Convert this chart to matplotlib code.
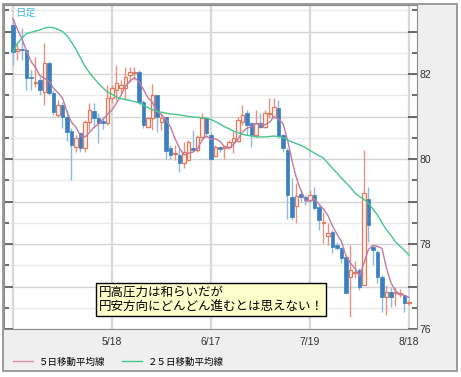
import matplotlib
matplotlib.use('Agg')
import matplotlib.pyplot as plt
from matplotlib import patches, ticker
from matplotlib.lines import Line2D
import numpy as np
import pandas as pd

plt.rcParams['font.family'] = ['Noto Sans CJK JP', 'DejaVu Sans']

# daily candles, 2016-04-18 .. 2016-08-18 (business days)
dates = pd.bdate_range('2016-04-18', '2016-08-18')

opens = [83.15, 82.55, 82.59, 82.56, 81.93, 81.79, 81.86, 81.58, 82.26, 81.55,
         81.04, 81.27, 80.99, 80.66, 80.28, 80.61, 80.26, 80.87, 81.13, 80.96,
         80.90, 80.85, 81.44, 81.62, 81.68, 81.68, 81.98, 82.03, 82.05, 81.34,
         80.75, 80.96, 81.51, 80.87, 80.99, 80.26, 80.12, 80.09, 79.90, 79.98,
         80.26, 80.21, 80.52, 80.96, 80.56, 80.07, 80.28, 80.26, 80.28, 80.40,
         80.42, 80.87, 81.08, 80.85, 80.56, 80.85, 80.75, 81.06, 81.00, 81.20,
         80.56, 80.21, 79.10, 78.90, 79.18, 79.10, 79.04, 79.15, 78.87, 78.49,
         78.19, 78.28, 77.98, 77.90, 77.70, 77.22, 77.32, 77.39, 77.04, 79.06,
         77.93, 77.81, 77.22, 76.75, 76.87, 76.85, 76.82, 76.80, 76.61]
highs = [83.27, 82.75, 83.08, 82.60, 82.10, 82.40, 81.93, 82.73, 82.30, 81.62,
         81.39, 81.34, 81.15, 80.73, 80.56, 80.63, 80.92, 81.32, 81.32, 81.08,
         81.00, 81.74, 81.74, 82.21, 81.86, 82.16, 82.16, 82.16, 82.10, 81.40,
         80.99, 81.77, 81.51, 81.08, 81.00, 80.33, 80.33, 80.26, 80.40, 80.45,
         80.68, 80.56, 81.08, 80.99, 80.61, 80.33, 80.30, 80.33, 80.45, 80.68,
         80.99, 81.27, 81.15, 80.87, 81.15, 81.08, 81.15, 81.44, 81.44, 81.39,
         80.60, 80.25, 79.55, 79.43, 79.27, 79.15, 79.27, 79.34, 78.92, 78.75,
         78.49, 78.33, 78.05, 77.93, 77.74, 77.98, 77.60, 77.43, 80.21, 79.34,
         77.98, 77.86, 77.27, 77.04, 76.99, 76.99, 76.94, 76.82, 76.68]
lows = [82.21, 82.33, 82.33, 81.62, 81.62, 81.70, 81.50, 81.27, 81.50, 81.03,
        80.99, 80.73, 80.42, 79.50, 80.16, 80.16, 80.16, 80.68, 80.73, 80.38,
        80.70, 80.80, 81.32, 81.39, 81.55, 81.39, 81.81, 81.86, 81.30, 80.73,
        80.73, 80.68, 80.63, 80.68, 80.00, 80.00, 79.98, 79.70, 79.80, 79.98,
        80.21, 80.16, 80.45, 80.56, 79.98, 80.05, 80.16, 80.00, 80.26, 80.14,
        80.40, 80.80, 80.56, 80.28, 80.52, 80.73, 80.73, 80.96, 80.98, 80.49,
        80.16, 78.60, 78.56, 78.50, 78.99, 78.92, 78.99, 78.80, 78.33, 78.02,
        77.98, 77.79, 77.86, 77.55, 76.85, 76.28, 77.20, 76.92, 77.04, 78.05,
        77.50, 77.08, 76.40, 76.33, 76.52, 76.55, 76.75, 76.40, 76.56]
closes = [82.52, 82.60, 82.56, 81.90, 81.90, 81.81, 81.62, 82.26, 81.55, 81.10,
          81.27, 80.99, 80.64, 80.33, 80.50, 80.26, 80.87, 81.15, 80.96, 80.85,
          80.85, 81.44, 81.67, 81.79, 81.74, 81.93, 82.05, 82.05, 81.34, 80.80,
          80.96, 81.51, 81.00, 80.96, 80.20, 80.09, 80.14, 79.90, 80.16, 80.40,
          80.21, 80.52, 80.96, 80.61, 80.00, 80.28, 80.24, 80.30, 80.40, 80.49,
          80.92, 81.04, 80.80, 80.56, 80.85, 80.75, 81.08, 81.08, 81.22, 80.55,
          80.26, 79.15, 78.64, 79.13, 79.10, 79.04, 79.15, 78.85, 78.56, 78.52,
          78.26, 77.93, 77.90, 77.67, 76.85, 77.39, 77.34, 76.99, 79.20, 78.45,
          77.86, 77.22, 76.75, 76.87, 76.75, 76.87, 76.85, 76.61, 76.63]
# 25-day average as drawn (needs data from before the window)
ma25 = [82.52, 82.72, 82.85, 82.95, 82.98, 83.01, 83.04, 83.08, 83.10, 83.09,
        83.05, 83.00, 82.90, 82.75, 82.58, 82.38, 82.18, 82.03, 81.90, 81.78,
        81.67, 81.58, 81.52, 81.46, 81.42, 81.40, 81.38, 81.35, 81.32, 81.27,
        81.21, 81.16, 81.12, 81.10, 81.08, 81.06, 81.05, 81.04, 81.02, 81.00,
        80.99, 80.98, 80.97, 80.96, 80.93, 80.88, 80.82, 80.76, 80.71, 80.66,
        80.62, 80.58, 80.56, 80.54, 80.52, 80.52, 80.52, 80.53, 80.54, 80.53,
        80.50, 80.45, 80.40, 80.36, 80.32, 80.27, 80.20, 80.14, 80.08, 80.02,
        79.90, 79.78, 79.67, 79.55, 79.44, 79.33, 79.20, 79.12, 79.05, 78.96,
        78.82, 78.68, 78.50, 78.33, 78.20, 78.05, 77.95, 77.85, 77.74]
ma5_head = [83.30, 83.05, 82.82, 82.55]

grid_dates = ['2016-04-18', '2016-05-18', '2016-06-17', '2016-07-19', '2016-08-18']
label_dates = grid_dates[1:]
y_labels = [76, 78, 80, 82]
note_lines = ['円高圧力は和らいだが', '円安方向にどんどん進むとは思えない！']
legend_labels = ['５日移動平均線', '２５日移動平均線']

df = pd.DataFrame({'open': opens, 'high': highs, 'low': lows, 'close': closes,
                   'ma25': ma25}, index=dates)
df['ma5'] = df['close'].rolling(5).mean()
df.iloc[:4, df.columns.get_loc('ma5')] = ma5_head
x = np.arange(len(df))

W, H = 461, 377
fig = plt.figure(figsize=(W / 100, H / 100), dpi=100)
fig.patches.append(patches.Rectangle((3 / W, 1 - 371 / H), 454 / W, 367 / H,
                                     transform=fig.transFigure, fc='#efefef',
                                     ec='#8c8c8c', lw=1.2, zorder=-5))
ax = fig.add_axes([4 / W, 1 - 329 / H, 413 / W, 324 / H])
ax.set_zorder(2)
ax.set_facecolor('white')

# grid
for v in np.arange(76, 84, 0.5):
    ax.axhline(v, color='#d4d4d4' if v % 1 == 0 else '#ebebeb', lw=1, zorder=0)
pos = {d: i for i, d in enumerate(df.index.strftime('%Y-%m-%d'))}
for d in grid_dates:
    ax.axvline(pos[d], color='#d8d8d8', lw=1.6, zorder=0)

# candles
o, h, l, c = (df[k].values for k in ['open', 'high', 'low', 'close'])
up = c >= o
bot = np.minimum(o, c)
hgt = np.maximum(np.abs(c - o), 0.025)
ax.vlines(x[up], l[up], h[up], color='#e8927c', lw=1, zorder=2)
ax.vlines(x[~up], l[~up], h[~up], color='#8dbae0', lw=1, zorder=2)
ax.bar(x[up], hgt[up], bottom=bot[up], width=0.7, color='#fdf2ee',
       edgecolor='#e07a5f', lw=0.9, zorder=3)
ax.bar(x[~up], hgt[~up], bottom=bot[~up], width=0.7, color='#3b7fc0',
       edgecolor='#3b7fc0', lw=0.5, zorder=3)

ax.plot(x, df['ma5'], color='#c27aa3', lw=1, zorder=4)
ax.plot(x, df['ma25'], color='#44c78c', lw=1, zorder=4)

ax.set_xlim(-2, 89.78)
ax.set_ylim(76, 83.624)

# axes / ticks
for s in ax.spines.values():
    s.set_color('#8c8c8c')
ax.yaxis.set_major_locator(ticker.MultipleLocator(1))
ax.yaxis.set_minor_locator(ticker.MultipleLocator(0.5))
ax.yaxis.set_major_formatter(ticker.FuncFormatter(
    lambda v, p: '%d' % v if round(v) in y_labels else ''))
ax.tick_params(axis='y', which='both', direction='in', left=True, right=True,
               labelleft=False, labelright=True, color='#555555', width=1.2,
               labelsize=7.5, labelcolor='#333333', pad=1.5)
ax.tick_params(axis='y', which='major', length=6.5)
ax.tick_params(axis='y', which='minor', length=3.6)
for t in ax.get_yticklabels():
    t.set_family('Liberation Sans')

ax.set_xticks([pos[d] for d in label_dates])
ax.set_xticklabels(['%d/%d' % (pd.Timestamp(d).month, pd.Timestamp(d).day) for d in label_dates],
                   family='Liberation Sans', fontsize=7.5, color='#333333')
ax.tick_params(axis='x', length=0, pad=6)

ax.text(0.028, 0.99, '日足', transform=ax.transAxes, fontsize=7.5,
        color='#4ab8ea', va='top', ha='left')

ax.text(0.229, 0.047, '\n'.join(note_lines), transform=ax.transAxes,
        fontsize=9, linespacing=1.2, va='bottom', ha='left', zorder=6,
        bbox=dict(boxstyle='square,pad=0.2', fc='#ffffcc', ec='black', lw=1))

handles = [Line2D([], [], color='#d68fae', lw=1), Line2D([], [], color='#44c78c', lw=1)]
fig.legend(handles, legend_labels, loc='center left',
           bbox_to_anchor=(13 / W, 1 - 362 / H), ncol=2, frameon=False,
           fontsize=6.8, handlelength=2.1, handletextpad=0.6, columnspacing=1.8,
           borderpad=0, borderaxespad=0)

fig.savefig('out.png', dpi=100)
